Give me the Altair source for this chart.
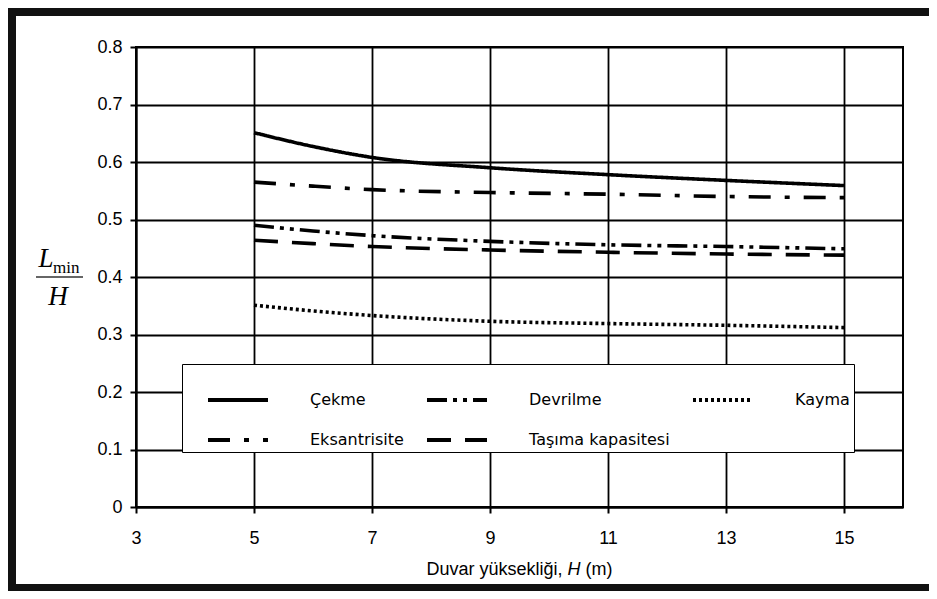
import altair as alt
import pandas as pd

# ---- data ----
H_values = [5, 6, 7, 9, 11, 13, 15]
cekme = [0.651, 0.627, 0.608, 0.590, 0.578, 0.568, 0.559]
eksantrisite = [0.565, 0.558, 0.552, 0.547, 0.544, 0.540, 0.538]
devrilme = [0.490, 0.480, 0.472, 0.462, 0.456, 0.453, 0.449]
tasima = [0.464, 0.458, 0.453, 0.447, 0.443, 0.440, 0.438]
kayma = [0.351, 0.341, 0.333, 0.323, 0.319, 0.316, 0.312]

# legend order (filled column by column: 2 rows x 3 columns)
series_names = ["Çekme", "Eksantrisite", "Devrilme", "Taşıma kapasitesi", "Kayma"]
series_values = [cekme, eksantrisite, devrilme, tasima, kayma]
dash_styles = [[1, 0], [22, 14, 5, 14], [20, 6, 4, 6, 4, 6], [24, 14], [3, 3]]

x_ticks = [3, 5, 7, 9, 11, 13, 15]
y_ticks = [0, 0.1, 0.2, 0.3, 0.4, 0.5, 0.6, 0.7, 0.8]

rows = []
for name, vals in zip(series_names, series_values):
    for h, v in zip(H_values, vals):
        rows.append({"H": h, "ratio": v, "series": name})
df = pd.DataFrame(rows)

W, HH = 767, 460
tick_font = "Liberation Sans"

lines = alt.Chart(df).mark_line(color="black", strokeWidth=3.6, interpolate="monotone").encode(
    x=alt.X("H:Q", scale=alt.Scale(domain=[3, 16], nice=False, zero=False),
            axis=alt.Axis(values=x_ticks, title=None, labelPadding=16, tickSize=6,
                          labelFontSize=18, labelFont=tick_font, labelColor="black",
                          grid=True, gridColor="black", gridWidth=1.8, gridOpacity=1,
                          domainColor="black", domainWidth=2, tickColor="black", tickWidth=2,
                          labelFlush=False)),
    y=alt.Y("ratio:Q", scale=alt.Scale(domain=[0, 0.8], nice=False),
            axis=alt.Axis(values=y_ticks, title=None, labelPadding=8, tickSize=6,
                          labelFontSize=18, labelFont=tick_font, labelColor="black",
                          labelExpr="datum.value == 0 ? '0' : format(datum.value, '.1f')",
                          grid=True, gridColor="black", gridWidth=1.8, gridOpacity=1,
                          domainColor="black", domainWidth=2, tickColor="black", tickWidth=2)),
    strokeDash=alt.StrokeDash("series:N",
        scale=alt.Scale(domain=series_names, range=dash_styles),
        sort=series_names,
        legend=alt.Legend(title=None, orient="none", legendX=46, legendY=317,
                          columns=3, symbolType="stroke", symbolSize=3600,
                          symbolStrokeWidth=4, symbolStrokeColor="black",
                          symbolOffset=20,
                          labelFont="DejaVu Sans", labelFontSize=16, labelColor="black",
                          labelOffset=40, columnPadding=1, rowPadding=-16,
                          padding=4, strokeColor="black", fillColor="white",
                          gridAlign="each")),
)

one = pd.DataFrame({"k": [0]})

# outer black frame (left, top, bottom) drawn as thick rules
frame_left = alt.Chart(one).mark_rule(color="#111", strokeWidth=8).encode(
    x=alt.value(-124), y=alt.value(-39), y2=alt.value(544))
frame_top = alt.Chart(one).mark_rule(color="#111", strokeWidth=8).encode(
    x=alt.value(-128), x2=alt.value(793), y=alt.value(-35))
frame_bottom = alt.Chart(one).mark_rule(color="#111", strokeWidth=7).encode(
    x=alt.value(-128), x2=alt.value(793), y=alt.value(540.5))

# y title: L_min / H
serif = "Liberation Serif"
t_L = alt.Chart(one).mark_text(text="L", font=serif, fontStyle="italic", fontSize=27,
                               align="center", baseline="alphabetic", color="black").encode(
    x=alt.value(-90), y=alt.value(220))
t_min = alt.Chart(one).mark_text(text="min", font=serif, fontSize=17,
                                 align="left", baseline="alphabetic", color="black").encode(
    x=alt.value(-83), y=alt.value(226))
t_bar = alt.Chart(one).mark_rule(color="#333", strokeWidth=1.5).encode(
    x=alt.value(-100), x2=alt.value(-53), y=alt.value(230))
t_H = alt.Chart(one).mark_text(text="H", font=serif, fontStyle="italic", fontSize=27,
                               align="center", baseline="alphabetic", color="black").encode(
    x=alt.value(-78), y=alt.value(258))

# x title: Duvar yüksekliği, H (m)
x1 = alt.Chart(one).mark_text(text="Duvar yüksekliği,", font=tick_font, fontSize=18,
                              align="right", baseline="alphabetic", color="black").encode(
    x=alt.value(426.5), y=alt.value(528))
x2 = alt.Chart(one).mark_text(text="H", font=tick_font, fontStyle="italic", fontSize=18,
                              align="left", baseline="alphabetic", color="black").encode(
    x=alt.value(431.5), y=alt.value(528))
x3 = alt.Chart(one).mark_text(text="(m)", font=tick_font, fontSize=18,
                              align="left", baseline="alphabetic", color="black").encode(
    x=alt.value(449.5), y=alt.value(528))

chart = alt.layer(
    lines, frame_left, frame_top, frame_bottom, t_L, t_min, t_bar, t_H, x1, x2, x3
).properties(
    width=W, height=HH,
    autosize=alt.AutoSizeParams(type="none"),
    padding={"left": 128, "top": 39, "right": 26, "bottom": 84},
    background="white",
).configure_view(
    stroke="black", strokeWidth=2, fill="white"
)

chart.save("out.html", embed_options={"renderer": "svg", "actions": False})
